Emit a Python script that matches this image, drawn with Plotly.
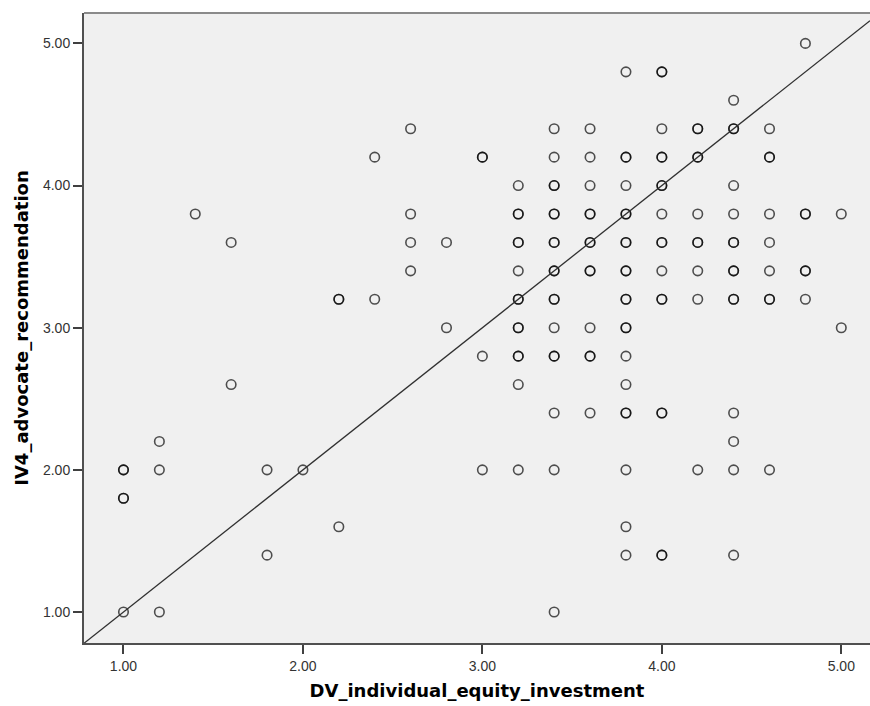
import plotly.graph_objects as go

# DV values (x) and IV4 values (y); repeated pairs are overlapping cases
dv_individual_equity_investment = [
    1.0, 1.0, 1.0, 1.0, 1.0,
    1.2, 1.2, 1.2,
    1.4,
    1.6, 1.6,
    1.8, 1.8,
    2.0,
    2.2, 2.2, 2.2,
    2.4, 2.4,
    2.6, 2.6, 2.6, 2.6,
    2.8, 2.8,
    3.0, 3.0, 3.0, 3.0,
    3.2, 3.2, 3.2, 3.2, 3.2, 3.2, 3.2, 3.2, 3.2, 3.2, 3.2, 3.2, 3.2, 3.2,
    3.4, 3.4, 3.4, 3.4, 3.4, 3.4, 3.4, 3.4, 3.4, 3.4, 3.4, 3.4, 3.4, 3.4, 3.4, 3.4, 3.4, 3.4,
    3.6, 3.6, 3.6, 3.6, 3.6, 3.6, 3.6, 3.6, 3.6, 3.6, 3.6, 3.6, 3.6,
    3.8, 3.8, 3.8, 3.8, 3.8, 3.8, 3.8, 3.8, 3.8, 3.8, 3.8, 3.8, 3.8, 3.8, 3.8, 3.8, 3.8, 3.8, 3.8, 3.8, 3.8,
    4.0, 4.0, 4.0, 4.0, 4.0, 4.0, 4.0, 4.0, 4.0, 4.0, 4.0, 4.0, 4.0, 4.0, 4.0, 4.0, 4.0,
    4.2, 4.2, 4.2, 4.2, 4.2, 4.2, 4.2, 4.2, 4.2, 4.2,
    4.4, 4.4, 4.4, 4.4, 4.4, 4.4, 4.4, 4.4, 4.4, 4.4, 4.4, 4.4, 4.4, 4.4, 4.4,
    4.6, 4.6, 4.6, 4.6, 4.6, 4.6, 4.6, 4.6, 4.6,
    4.8, 4.8, 4.8, 4.8, 4.8, 4.8,
    5.0, 5.0,
]

iv4_advocate_recommendation = [
    2.0, 2.0, 1.8, 1.8, 1.0,
    2.2, 2.0, 1.0,
    3.8,
    3.6, 2.6,
    2.0, 1.4,
    2.0,
    3.2, 3.2, 1.6,
    4.2, 3.2,
    4.4, 3.8, 3.6, 3.4,
    3.6, 3.0,
    4.2, 4.2, 2.8, 2.0,
    4.0, 3.8, 3.8, 3.6, 3.6, 3.4, 3.2, 3.2, 3.0, 3.0, 2.8, 2.8, 2.6, 2.0,
    4.4, 4.2, 4.0, 4.0, 3.8, 3.8, 3.6, 3.6, 3.4, 3.4, 3.2, 3.2, 3.0, 2.8, 2.8, 2.4, 2.0, 1.0,
    4.4, 4.2, 4.0, 3.8, 3.8, 3.6, 3.6, 3.4, 3.4, 3.0, 2.8, 2.8, 2.4,
    4.8, 4.2, 4.2, 4.0, 3.8, 3.8, 3.6, 3.6, 3.4, 3.4, 3.2, 3.2, 3.0, 3.0, 2.8, 2.6, 2.4, 2.4, 2.0, 1.6, 1.4,
    4.8, 4.8, 4.4, 4.2, 4.2, 4.0, 4.0, 3.8, 3.6, 3.6, 3.4, 3.2, 3.2, 2.4, 2.4, 1.4, 1.4,
    4.4, 4.4, 4.2, 4.2, 3.8, 3.6, 3.6, 3.4, 3.2, 2.0,
    4.6, 4.4, 4.4, 4.0, 3.8, 3.6, 3.6, 3.4, 3.4, 3.2, 3.2, 2.4, 2.2, 2.0, 1.4,
    4.4, 4.2, 4.2, 3.8, 3.6, 3.4, 3.2, 3.2, 2.0,
    5.0, 3.8, 3.8, 3.4, 3.4, 3.2,
    3.8, 3.0,
]

tick_values = [1.0, 2.0, 3.0, 4.0, 5.0]
tick_labels = ["1.00", "2.00", "3.00", "4.00", "5.00"]
x_range = [0.78, 5.16]
y_range = [0.782, 5.214]

fig = go.Figure()

fig.add_trace(go.Scatter(
    x=dv_individual_equity_investment,
    y=iv4_advocate_recommendation,
    mode="markers",
    marker=dict(symbol="circle-open", size=9.5, color="rgba(0,0,0,0.68)",
                line=dict(width=1.6, color="rgba(0,0,0,0.68)")),
    hoverinfo="x+y",
    showlegend=False,
))

# identity reference line across the plot area
fig.add_trace(go.Scatter(
    x=[x_range[0], x_range[1]],
    y=[x_range[0], x_range[1]],
    mode="lines",
    line=dict(color="#303030", width=1.3),
    hoverinfo="skip",
    showlegend=False,
))

tick_font = dict(family="Liberation Sans, Arial, sans-serif", size=14, color="#333333")
title_font = dict(family="DejaVu Sans, sans-serif", size=18, color="#000000", weight="bold")

fig.update_layout(
    width=870, height=706,
    margin=dict(l=84, r=0, t=13, b=63),
    paper_bgcolor="white",
    plot_bgcolor="#f0f0f0",
    xaxis=dict(
        range=x_range, tickvals=tick_values, ticktext=tick_labels,
        showgrid=False, zeroline=False,
        showline=True, linecolor="#505050", linewidth=2,
        ticks="outside", ticklen=9, tickwidth=1.5, tickcolor="#404040",
        tickfont=tick_font,
        title=dict(text="DV_individual_equity_investment", font=title_font, standoff=12),
        automargin=False,
    ),
    yaxis=dict(
        range=y_range, tickvals=tick_values, ticktext=tick_labels,
        showgrid=False, zeroline=False,
        showline=True, linecolor="#505050", linewidth=2,
        ticks="outside", ticklen=9, tickwidth=1.5, tickcolor="#404040",
        tickfont=tick_font,
        title=dict(text="IV4_advocate_recommendation", font=title_font, standoff=10),
        automargin=False,
    ),
    shapes=[dict(type="line", xref="paper", yref="paper", x0=0, x1=1, y0=1, y1=1,
                 line=dict(color="#8a8a8a", width=2))],
)

fig.write_html("out.html")
